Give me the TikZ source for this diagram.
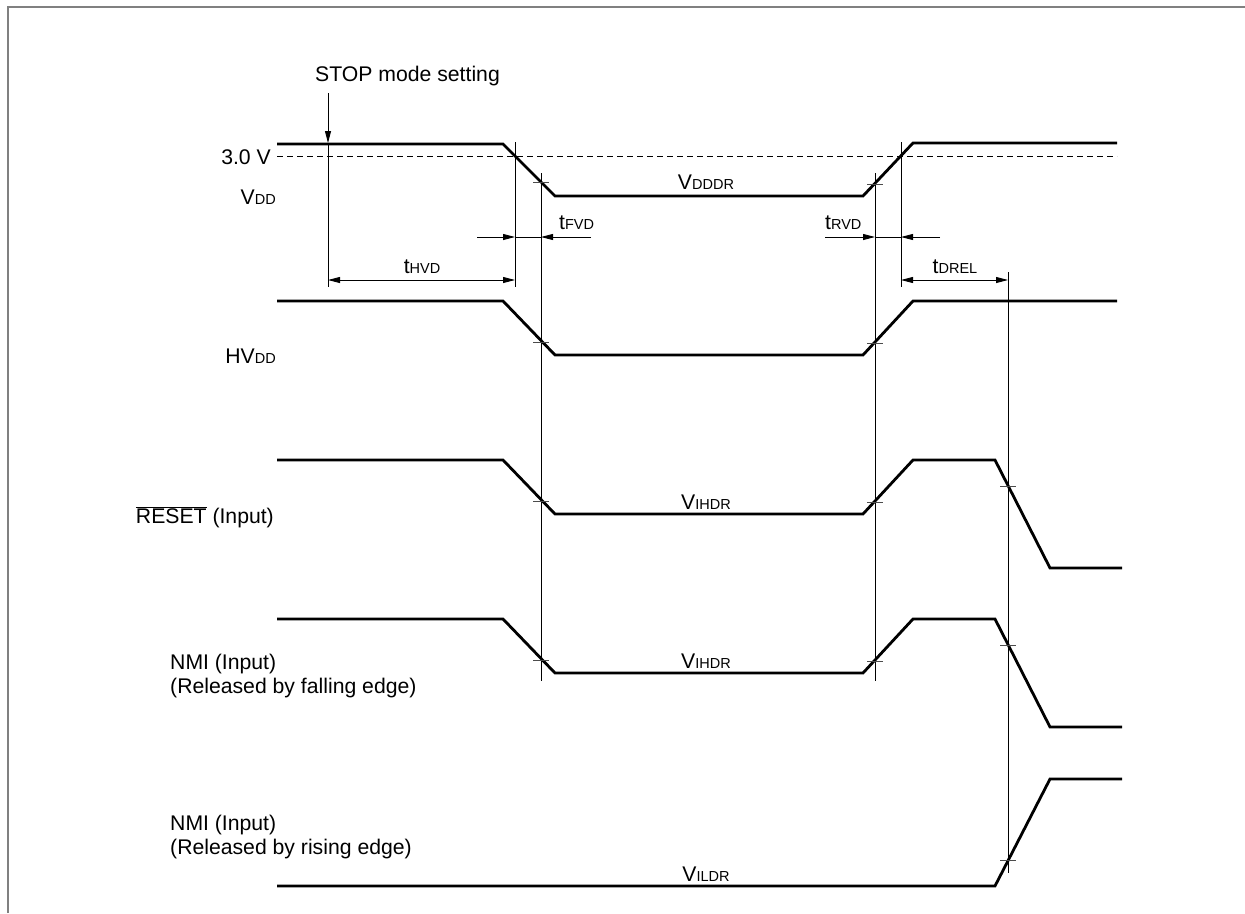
\documentclass[tikz,border=0pt]{standalone}
\usepackage{fontspec}
\setmainfont{Liberation Sans}
\usetikzlibrary{arrows.meta}
\newcommand{\sbs}[1]{{\fontsize{14.5}{14.5}\selectfont #1}}
\begin{document}
\begin{tikzpicture}[x=1pt,y=-1pt,
  every node/.style={font=\fontsize{21.2}{24}\selectfont, inner sep=0pt},
  wave/.style={line width=2.8pt, line join=miter},
  guide/.style={line width=0.9pt},
  tickmark/.style={line width=0.9pt, draw=black!70},
  dashline/.style={line width=1pt, dash pattern=on 6pt off 4pt},
  arr/.style={line width=0.9pt, -{Triangle[length=12pt,width=6pt]}},
  darr/.style={line width=0.9pt, {Triangle[length=12pt,width=6pt]}-{Triangle[length=12pt,width=6pt]}},
  frame/.style={line width=2pt, draw=black!50}]
\useasboundingbox (0,0) rectangle (1245,913);
\fill[white] (0,0) rectangle (1245,913);
\draw[frame] (8,913) -- (8,7) -- (1245,7);

% labels
\node[anchor=west] (stop) at (315,76) {STOP mode setting};
\node[anchor=east] (v30) at (271,157) {3.0 V};
\node[anchor=east] (vdd) at (276,197) {V\sbs{DD}};
\node[anchor=east] (hvdd) at (276,356) {HV\sbs{DD}};
\node[anchor=east] (rst) at (274,517) {$\overline{\mbox{RESET}}$ (Input)};
\node[anchor=west, align=left] (nmif) at (170,676) {NMI (Input)\\(Released by falling edge)};
\node[anchor=west, align=left] (nmir) at (170,837) {NMI (Input)\\(Released by rising edge)};
\node (vdddr) at (706,182) {V\sbs{DDDR}};
\node (vihdr1) at (706,502) {V\sbs{IHDR}};
\node (vihdr2) at (706,661) {V\sbs{IHDR}};
\node (vildr) at (706,874) {V\sbs{ILDR}};
\node[anchor=west] (tfvd) at (559,223) {t\sbs{FVD}};
\node[anchor=west] (trvd) at (825,223) {t\sbs{RVD}};
\node (thvd) at (422,267) {t\sbs{HVD}};
\node (tdrel) at (955,267) {t\sbs{DREL}};

% dashed 3.0 V level
\coordinate (dl) at (277,156);
\coordinate (dr) at (1117,156);
\draw[dashline] (dl) -- (dr);

% waveforms
\draw[wave] (277,144) -- (503,144) -- (555,196) -- (863,196) -- (913,143) -- (1117,143);
\draw[wave] (277,301) -- (503,301) -- (555,355) -- (863,355) -- (913,301) -- (1117,301);
\draw[wave] (277,460) -- (503,460) -- (555,514) -- (863,514) -- (913,460) -- (995,460) -- (1050,568) -- (1122,568);
\draw[wave] (277,619) -- (503,619) -- (555,673) -- (863,673) -- (913,619) -- (995,619) -- (1050,727) -- (1122,727);
\draw[wave] (277,886) -- (995,886) -- (1050,779) -- (1122,779);

% guide coordinates
\coordinate (s0) at (328,93);
\coordinate (s1) at (328,143);
\coordinate (s2) at (328,287);
\coordinate (a1) at (515,142);
\coordinate (a2) at (515,287);
\coordinate (b1) at (541,173);
\coordinate (b2) at (541,681);
\coordinate (c1) at (875,173);
\coordinate (c2) at (875,681);
\coordinate (d1) at (901,142);
\coordinate (d2) at (901,287);
\coordinate (e1) at (1008,272);
\coordinate (e2) at (1008,873);

\draw[arr] (s0) -- (s1);
\draw[guide] (s1) -- (s2);
\draw[guide] (a1) -- (a2);
\draw[guide] (b1) -- (b2);
\draw[guide] (c1) -- (c2);
\draw[guide] (d1) -- (d2);
\draw[guide] (e1) -- (e2);

% dimension arrows
\coordinate (fa) at (477,237);
\coordinate (fb) at (515,237);
\coordinate (fc) at (541,237);
\coordinate (fd) at (591,237);
\draw[arr] (fa) -- (fb);
\draw[guide] (fb) -- (fc);
\draw[arr] (fd) -- (fc);
\coordinate (ra) at (825,237);
\coordinate (rb) at (875,237);
\coordinate (rc) at (901,237);
\coordinate (rd) at (940,237);
\draw[arr] (ra) -- (rb);
\draw[guide] (rb) -- (rc);
\draw[arr] (rd) -- (rc);
\coordinate (ha) at (328,280);
\coordinate (hb) at (515,280);
\draw[darr] (ha) -- (hb);
\coordinate (ta) at (901,280);
\coordinate (tb) at (1008,280);
\draw[darr] (ta) -- (tb);

% crossing ticks
\foreach \p in {(541,182),(541,342),(541,501),(541,660),(875,184),(875,343),(875,502),(875,661),(1008,486),(1008,645),(1008,860)}
  \draw[tickmark] \p ++(-8,0) -- ++(16,0);
\end{tikzpicture}
\end{document}
